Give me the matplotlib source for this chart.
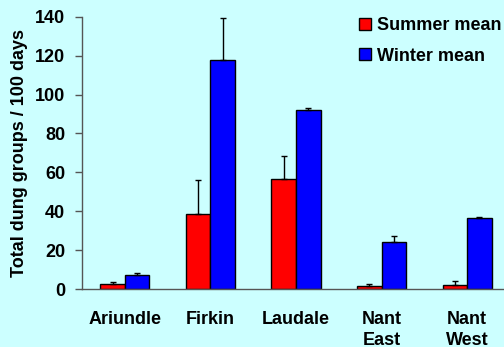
import matplotlib
matplotlib.use("Agg")
import matplotlib.pyplot as plt
import numpy as np

categories = ["Ariundle", "Firkin", "Laudale", "Nant\nEast", "Nant\nWest"]
summer_mean = [2.4, 38.4, 56.6, 1.5, 2.1]
summer_err = [1.4, 17.7, 11.7, 1.2, 2.0]
winter_mean = [7.4, 117.7, 92.0, 24.0, 36.5]
winter_err = [0.7, 21.4, 1.3, 3.1, 0.7]
yticks = [0, 20, 40, 60, 80, 100, 120, 140]

plt.rcParams['font.family'] = ['Liberation Sans', 'DejaVu Sans']
plt.rcParams['font.weight'] = 'bold'

bg = '#CCFFFF'
fig = plt.figure(figsize=(5.04, 3.47), dpi=100, facecolor=bg)
ax = fig.add_axes([82/504, 58/347, 428/504, 272.3/347], facecolor=bg)

x = np.arange(len(categories))
w = 0.287
ax.bar(x - w/2, summer_mean, w, color='#FF0000', edgecolor='black', linewidth=1,
       yerr=[np.zeros(len(x)), summer_err], capsize=2.5,
       error_kw=dict(ecolor='black', elinewidth=1, capthick=1), label='Summer mean', zorder=2)
ax.bar(x + w/2, winter_mean, w, color='#0000FF', edgecolor='black', linewidth=1,
       yerr=[np.zeros(len(x)), winter_err], capsize=2.5,
       error_kw=dict(ecolor='black', elinewidth=1, capthick=1), label='Winter mean', zorder=2)

ax.set_xlim(-0.5, 4.5)
ax.set_ylim(0, 140)
ax.set_yticks(yticks)
ax.set_xticks(x)
ax.set_xticklabels(categories, fontsize=13, fontweight='bold', linespacing=1.3)
ax.tick_params(axis='x', length=0, pad=16)
ax.tick_params(axis='y', length=5, width=1, color='#555555', pad=7, labelsize=13)
for lab in ax.get_yticklabels():
    lab.set_fontweight('bold')
for s in ['top', 'right']:
    ax.spines[s].set_visible(False)
for s in ['left', 'bottom']:
    ax.spines[s].set_color('#555555')
    ax.spines[s].set_linewidth(1)

ax.set_ylabel('Total dung groups / 100 days', fontsize=13, fontweight='bold', labelpad=5)

leg = fig.legend(loc='upper left', bbox_to_anchor=(359/504, 1 - 17/347), frameon=False,
                 fontsize=13, handlelength=0.65, handleheight=0.65, handletextpad=0.35,
                 labelspacing=0.75, borderaxespad=0, borderpad=0)
for t in leg.get_texts():
    t.set_fontweight('bold')

fig.savefig('out.png', dpi=100, facecolor=bg)
